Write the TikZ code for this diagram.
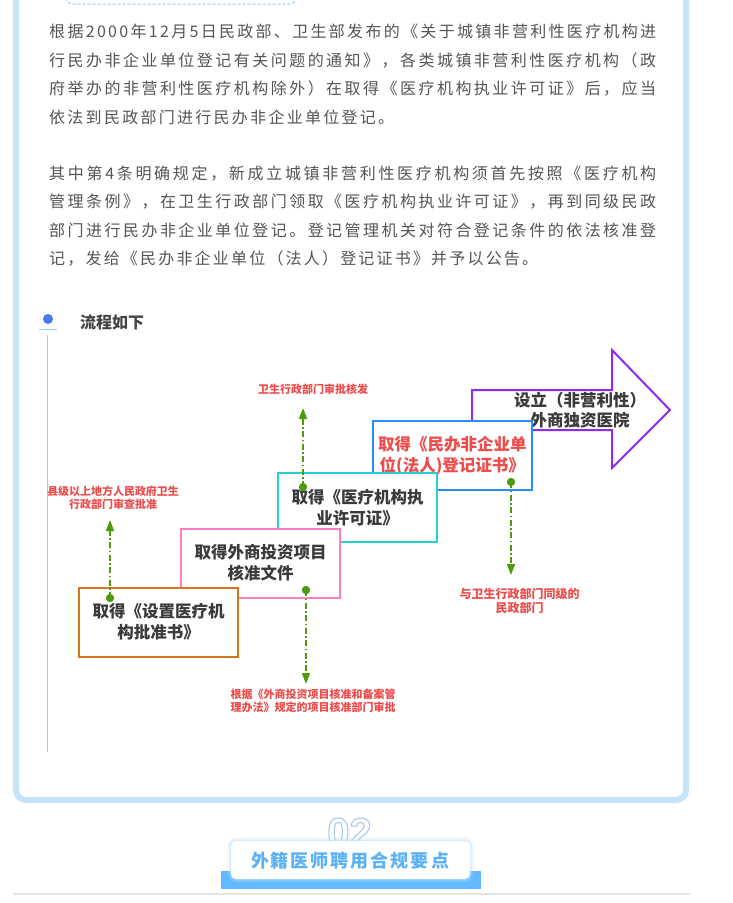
\documentclass[tikz,border=0pt]{standalone}
\usepackage{fontspec}
\setmainfont{Noto Sans CJK SC}
\newfontfamily\numfont{Liberation Sans}
\usetikzlibrary{arrows.meta}
\definecolor{framec}{HTML}{C4E4FB}
\definecolor{dashc}{HTML}{8FCAF5}
\definecolor{txt}{HTML}{555555}
\definecolor{titlec}{HTML}{444444}
\definecolor{dotblue}{HTML}{4A78EE}
\definecolor{tlc}{HTML}{9DCDF3}
\definecolor{boxtxt}{HTML}{3A3A3A}
\definecolor{redt}{HTML}{EE4B4B}
\definecolor{grn}{HTML}{4D9A0C}
\definecolor{corange}{HTML}{D6761A}
\definecolor{cpink}{HTML}{FF7EC0}
\definecolor{ccyan}{HTML}{26CED6}
\definecolor{cblue}{HTML}{2B8CFF}
\definecolor{cpurple}{HTML}{8E2BF0}
\definecolor{numc}{HTML}{A8CBF0}
\definecolor{barc}{HTML}{63B9FF}
\definecolor{secc}{HTML}{5AB1F6}
\definecolor{glowc}{HTML}{B9DDFB}
\definecolor{grayl}{HTML}{E3E3E3}
\def\sprA#1{#1\sprB}
\def\sprB#1{\ifx#1\relax\else\hfill#1\expandafter\sprB\fi}
\newcommand\jl[2]{\hbox to #1{\sprA#2\relax}}
\newcommand\outlinetext[1]{\special{pdf:literal direct 1 Tr 1.1 w}#1\special{pdf:literal direct 0 Tr}}
\tikzset{
  para/.style={anchor=base west, inner sep=0pt, text=txt, font=\fontsize{16}{20}\selectfont},
  stepbox/.style={draw, line width=2pt, fill=white, minimum width=159pt, minimum height=69pt, inner sep=0pt,
    align=center, text=boxtxt, font=\fontsize{16.5}{21}\selectfont\bfseries},
  lbl/.style={align=center, inner sep=0pt, text=redt, font=\fontsize{11}{13}\selectfont\bfseries},
  gdot/.style={circle, fill=grn, inner sep=0pt, minimum size=8pt},
  gline/.style={draw=grn, line width=1.5pt, dash pattern=on 6pt off 2.5pt on 1.5pt off 2.5pt,
    -{Triangle[length=11pt,width=8pt]}}
}
\begin{document}
\begin{tikzpicture}[x=1pt,y=-1pt]
\useasboundingbox (0,0) rectangle (733,903);
\fill[white] (0,0) rectangle (733,903);
% frame
\draw[framec, line width=6pt, rounded corners=10pt] (16,-20) -- (16,800) -- (686,800) -- (686,-20);
\draw[dashc, line width=1pt, dash pattern=on 3pt off 2pt, rounded corners=8pt] (65,-20) rectangle (297,4);
% paragraphs
\node[para] (p1a) at (49,37.5) {\jl{607pt}{根据2000年12月5日民政部、卫生部发布的《关于城镇非营利性医疗机构进}};
\node[para] (p1b) at (49,66) {\jl{607pt}{行民办非企业单位登记有关问题的通知》，各类城镇非营利性医疗机构（政}};
\node[para] (p1c) at (49,94.5) {\jl{607pt}{府举办的非营利性医疗机构除外）在取得《医疗机构执业许可证》后，应当}};
\node[para] (p1d) at (49,123) {\jl{345pt}{依法到民政部门进行民办非企业单位登记。}};
\node[para] (p2a) at (49,179) {\jl{607pt}{其中第4条明确规定，新成立城镇非营利性医疗机构须首先按照《医疗机构}};
\node[para] (p2b) at (49,207.5) {\jl{607pt}{管理条例》，在卫生行政部门领取《医疗机构执业许可证》，再到同级民政}};
\node[para] (p2c) at (49,236) {\jl{607pt}{部门进行民办非企业单位登记。登记管理机关对符合登记条件的依法核准登}};
\node[para] (p2d) at (49,264.5) {\jl{489pt}{记，发给《民办非企业单位（法人）登记证书》并予以公告。}};
% title
\fill[dotblue] (48,319) circle (5pt);
\draw[tlc, line width=1pt] (39,329) -- (57,329);
\draw[tlc, line width=1pt] (47,335) -- (47,752);
\node[anchor=base west, inner sep=0pt, text=titlec, font=\fontsize{16}{20}\selectfont\bfseries] (title) at (80,328) {流程如下};
% arrow
\draw[cpurple, line width=2pt, fill=white, line join=miter] (472,430) -- (472,390) -- (612,390) -- (612,350) -- (670,410) -- (612,468) -- (612,430) -- cycle;
\node[align=center, inner sep=0pt, text=boxtxt, font=\fontsize{16.5}{20}\selectfont\bfseries] (artext) at (580,410.5) {设立（非营利性）\\外商独资医院};
% boxes
\node[stepbox, draw=cblue, text=redt] (b4) at (452.25,455.5) {取得《民办非企业单\\位(法人)登记证书》};
\node[stepbox, draw=ccyan] (b3) at (357.5,507.5) {取得《医疗机构执\\业许可证》};
\node[stepbox, draw=cpink] (b2) at (260.5,563) {取得外商投资项目\\核准文件};
\node[stepbox, draw=corange] (b1) at (158.5,622) {取得《设置医疗机\\构批准书》};
% connectors
\coordinate (t1) at (110,520);
\coordinate (t2) at (306,684);
\coordinate (t3) at (303,408);
\coordinate (t4) at (511,575);
\node[gdot] (d1) at (110,598) {};
\node[gdot] (d2) at (306,590) {};
\node[gdot] (d3) at (303,487) {};
\node[gdot] (d4) at (511,482) {};
\draw[gline] (d1.center) -- (t1);
\draw[gline] (d2.center) -- (t2);
\draw[gline] (d3.center) -- (t3);
\draw[gline] (d4.center) -- (t4);
\fill[grn] (d1) circle (4pt) (d2) circle (4pt) (d3) circle (4pt) (d4) circle (4pt);
\node[lbl] (l1) at (113,497.5) {县级以上地方人民政府卫生\\行政部门审查批准};
\node[lbl] (l3) at (313,389) {卫生行政部门审批核发};
\node[lbl] (l2) at (313,700.5) {根据《外商投资项目核准和备案管\\理办法》规定的项目核准部门审批};
\node[lbl, font=\fontsize{12}{14}\selectfont\bfseries] (l4) at (519.5,601) {与卫生行政部门同级的\\民政部门};
% bottom section
\node[anchor=base, inner sep=0pt, text=numc, font=\numfont\fontsize{40}{42}\selectfont\bfseries] (num) at (349.5,846) {\outlinetext{02}};
\fill[barc] (221,871) rectangle (481,889);
\foreach \w/\o in {8/0.12,5/0.2,2.5/0.35}
  \draw[glowc, line width=\w pt, opacity=\o, rounded corners=5pt] (231,841) rectangle (470,879);
\fill[white, rounded corners=5pt] (231,841) rectangle (470,879);
\node[anchor=base, inner sep=0pt, text=secc, font=\fontsize{18}{20}\selectfont\bfseries] (sec) at (350,867) {\jl{198pt}{外籍医师聘用合规要点}};
\draw[grayl, line width=1.5pt] (13,894) -- (690,894);
\end{tikzpicture}
\end{document}
